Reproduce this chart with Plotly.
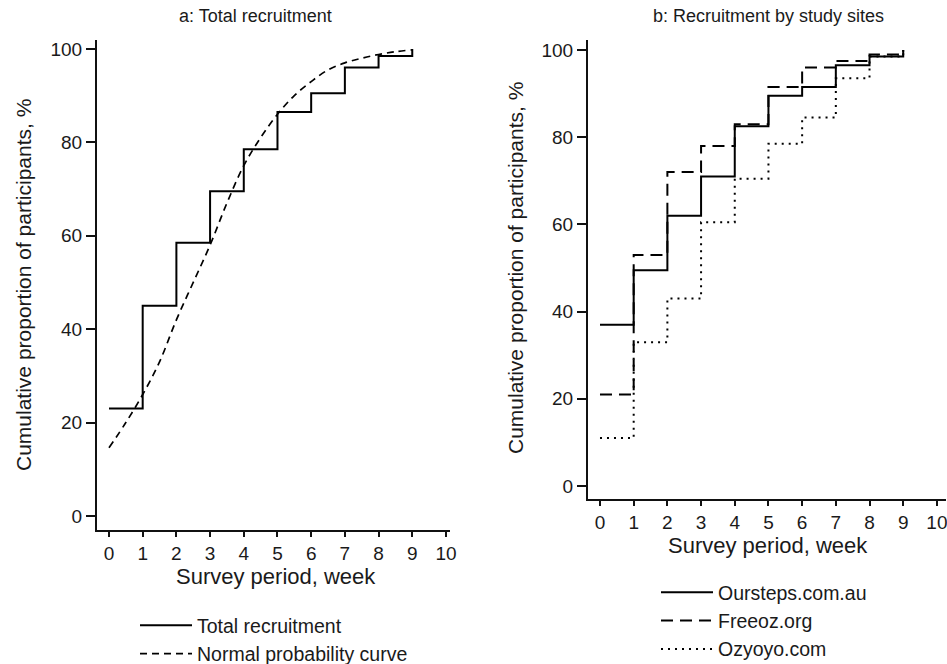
import plotly.graph_objects as go

weeks = [0, 1, 2, 3, 4, 5, 6, 7, 8, 9]
total = [23, 45, 58.5, 69.5, 78.5, 86.5, 90.5, 96, 98.5, 100]
curve_x = [0, 0.5, 1, 1.5, 2, 2.5, 3, 3.5, 4, 4.5, 5, 5.5, 6, 6.5, 7, 7.5, 8, 8.5, 9]
curve_y = [14.6, 20, 26, 33, 42, 50, 58, 67, 75, 81, 86, 90, 93, 95.5, 97, 98, 98.8, 99.4, 99.8]
oursteps = [37, 49.5, 62, 71, 82.5, 89.5, 91.5, 96.5, 98.5, 100]
freeoz = [21, 53, 72, 78, 83, 91.5, 96, 97.5, 99, 100]
ozyoyo = [11, 33, 43, 60.5, 70.5, 78.5, 84.5, 93.5, 98.5, 100]
xticks = list(range(0, 11))
yticks = [0, 20, 40, 60, 80, 100]

FONT = "Liberation Sans, Arial, sans-serif"
TXT = "#1a1a1a"
W, H = 947, 664

fig = go.Figure()
fig.add_trace(go.Scatter(x=weeks, y=total, mode="lines", line=dict(color="black", width=2, shape="hv"),
                         name="Total recruitment", legend="legend", legendgroup="a1", xaxis="x", yaxis="y"))
fig.add_trace(go.Scatter(x=curve_x, y=curve_y, mode="lines", line=dict(color="black", width=1.7, dash="7px,5px", shape="spline"),
                         name="Normal probability curve", legend="legend", legendgroup="a2", xaxis="x", yaxis="y"))
fig.add_trace(go.Scatter(x=weeks, y=oursteps, mode="lines", line=dict(color="black", width=2, shape="hv"),
                         name="Oursteps.com.au", legend="legend2", legendgroup="b1", xaxis="x2", yaxis="y2"))
fig.add_trace(go.Scatter(x=weeks, y=freeoz, mode="lines", line=dict(color="black", width=2, dash="12px,7px", shape="hv"),
                         name="Freeoz.org", legend="legend2", legendgroup="b2", xaxis="x2", yaxis="y2"))
fig.add_trace(go.Scatter(x=weeks, y=ozyoyo, mode="lines", line=dict(color="black", width=2, dash="2px,5px", shape="hv"),
                         name="Ozyoyo.com", legend="legend2", legendgroup="b3", xaxis="x2", yaxis="y2"))

axx = dict(showgrid=False, zeroline=False, showline=True, linecolor="#111", linewidth=2,
           ticks="outside", ticklen=5, tickwidth=1.5, tickcolor="#111", ticklabeloverflow="allow",
           tickfont=dict(family=FONT, size=19, color=TXT))
axy = dict(axx, ticklen=9)

def px_x(p):
    return p / W

def px_y(p):
    return 1 - p / H

legfont = dict(family=FONT, size=19.5, color=TXT)

fig.update_layout(
    width=W, height=H, margin=dict(l=0, r=0, t=0, b=0, autoexpand=False),
    paper_bgcolor="white", plot_bgcolor="white", showlegend=True,
    font=dict(family=FONT, size=14, color=TXT),
    xaxis=dict(domain=[px_x(97), px_x(450)], range=[-0.356, 10.12], tickvals=xticks, anchor="y", **axx),
    yaxis=dict(domain=[px_y(530), px_y(40)], range=[-3, 101.9], tickvals=yticks, anchor="x", **axy),
    xaxis2=dict(domain=[px_x(588), px_x(946)], range=[-0.356, 10.27], tickvals=xticks, anchor="y2", **axx),
    yaxis2=dict(domain=[px_y(499), px_y(40)], range=[-2.98, 102.3], tickvals=yticks, anchor="x2", **axy),
    legend=dict(x=px_x(135), y=px_y(606), xanchor="left", yanchor="top", bgcolor="rgba(0,0,0,0)",
                font=legfont, tracegroupgap=0, traceorder="grouped", itemwidth=52),
    legend2=dict(x=px_x(656), y=px_y(573), xanchor="left", yanchor="top", bgcolor="rgba(0,0,0,0)",
                 font=legfont, tracegroupgap=0, traceorder="grouped", itemwidth=52),
    annotations=[
        dict(text="a: Total recruitment", x=px_x(255), y=px_y(16), xref="paper", yref="paper", showarrow=False,
             xanchor="center", yanchor="middle", font=dict(family=FONT, size=18, color=TXT)),
        dict(text="b: Recruitment by study sites", x=px_x(768), y=px_y(16), xref="paper", yref="paper", showarrow=False,
             xanchor="center", yanchor="middle", font=dict(family=FONT, size=18, color=TXT)),
        dict(text="Cumulative proportion of participants, %", x=px_x(23), y=px_y(285), xref="paper", yref="paper",
             showarrow=False, textangle=-90, xanchor="center", yanchor="middle", font=dict(family=FONT, size=21, color=TXT)),
        dict(text="Cumulative proportion of participants, %", x=px_x(515), y=px_y(268), xref="paper", yref="paper",
             showarrow=False, textangle=-90, xanchor="center", yanchor="middle", font=dict(family=FONT, size=21, color=TXT)),
        dict(text="Survey period, week", x=px_x(276), y=px_y(576), xref="paper", yref="paper", showarrow=False,
             xanchor="center", yanchor="middle", font=dict(family=FONT, size=22, color=TXT)),
        dict(text="Survey period, week", x=px_x(768), y=px_y(545), xref="paper", yref="paper", showarrow=False,
             xanchor="center", yanchor="middle", font=dict(family=FONT, size=22, color=TXT)),
    ],
)

fig.write_html("out.html", config={"displayModeBar": False},
               post_script="document.body.style.margin='0';document.body.style.overflow='hidden';")
